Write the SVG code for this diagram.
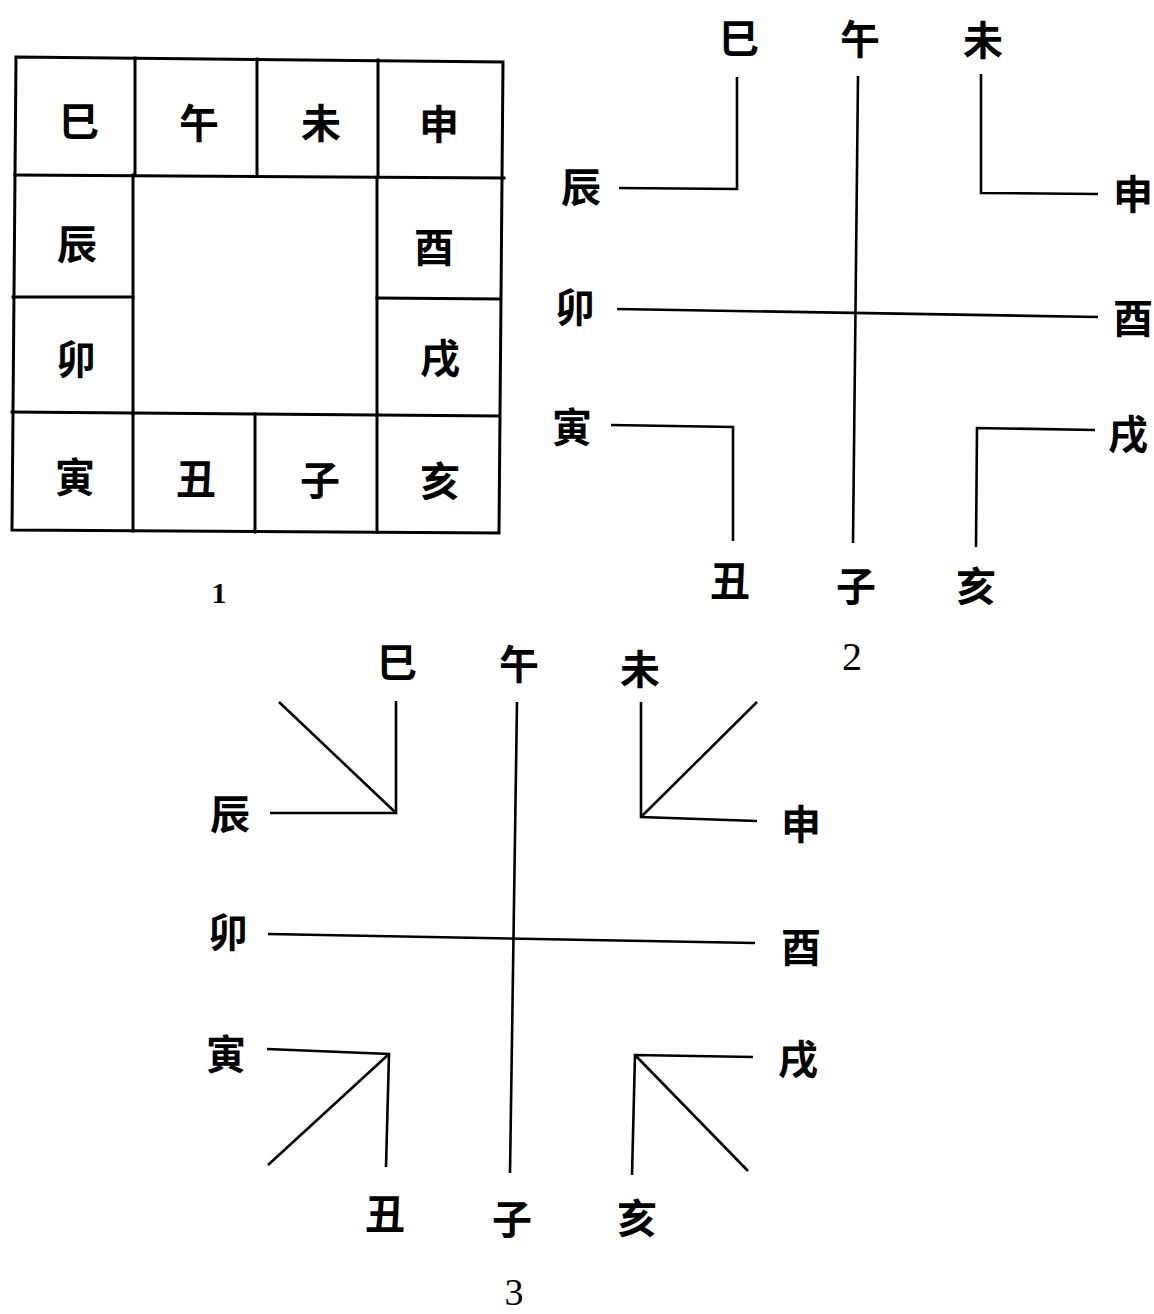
<svg xmlns="http://www.w3.org/2000/svg" width="1154" height="1314" viewBox="0 0 1154 1314">
<style>
.b{font-family:"Noto Sans CJK SC","Noto Sans CJK TC",sans-serif;font-weight:bold;font-size:40px;fill:#000;text-anchor:middle;dominant-baseline:central}
.n{font-family:"Liberation Serif",serif;fill:#000;text-anchor:middle;dominant-baseline:central}
.g1{stroke:#000;stroke-width:3;fill:none;stroke-linecap:square}
.g2{stroke:#000;stroke-width:2.6;fill:none;stroke-linejoin:miter}
</style>
<rect width="1154" height="1314" fill="#fff"/>

<!-- Figure 1 -->
<g id="fig1">
  <g class="g1">
    <polygon points="16,57 503,62 499,533 12,530"/>
    <line x1="15" y1="175" x2="504" y2="178"/>
    <line x1="135" y1="58" x2="135" y2="175"/>
    <line x1="257" y1="59" x2="257" y2="176"/>
    <line x1="378" y1="60" x2="378" y2="177"/>
    <line x1="133" y1="175" x2="133" y2="414"/>
    <line x1="377" y1="177" x2="377" y2="415"/>
    <line x1="13" y1="297" x2="133" y2="297"/>
    <line x1="377" y1="298" x2="500" y2="299"/>
    <line x1="12" y1="412" x2="498" y2="416"/>
    <line x1="133" y1="413" x2="133" y2="531"/>
    <line x1="255" y1="414" x2="255" y2="532"/>
    <line x1="377" y1="415" x2="377" y2="532"/>
  </g>
  <g id="f1-si"><text class="b" x="79" y="119">巳</text></g>
  <g id="f1-wu"><text class="b" x="199" y="121">午</text></g>
  <g id="f1-wei"><text class="b" x="321" y="121">未</text></g>
  <g id="f1-shen"><text class="b" x="439" y="122">申</text></g>
  <g id="f1-chen"><text class="b" x="77" y="242">辰</text></g>
  <g id="f1-you"><text class="b" x="434" y="245">酉</text></g>
  <g id="f1-mao"><text class="b" x="76" y="357">卯</text></g>
  <g id="f1-xu"><text class="b" x="440" y="356">戌</text></g>
  <g id="f1-yin"><text class="b" x="75" y="475">寅</text></g>
  <g id="f1-chou"><text class="b" x="196" y="477">丑</text></g>
  <g id="f1-zi"><text class="b" x="320" y="478">子</text></g>
  <g id="f1-hai"><text class="b" x="440" y="479">亥</text></g>
  <text class="n" x="219" y="592" font-size="30" font-weight="bold">1</text>
</g>

<!-- Figure 2 -->
<g id="fig2">
  <g id="f2-connectors" class="g2">
    <line x1="858" y1="76" x2="853" y2="543"/>
    <line x1="617" y1="309" x2="1098" y2="317"/>
    <polyline points="737,77 737,189 619,188"/>
    <polyline points="981,74 981,193 1098,194"/>
    <polyline points="611,425 733,427 733,541"/>
    <polyline points="1095,430 977,428 976,547"/>
  </g>
  <g id="f2-si"><text class="b" x="739" y="36">巳</text></g>
  <g id="f2-wu"><text class="b" x="860" y="37">午</text></g>
  <g id="f2-wei"><text class="b" x="983" y="38">未</text></g>
  <g id="f2-chen"><text class="b" x="581" y="185">辰</text></g>
  <g id="f2-shen"><text class="b" x="1133" y="192">申</text></g>
  <g id="f2-mao"><text class="b" x="575" y="305">卯</text></g>
  <g id="f2-you"><text class="b" x="1133" y="316">酉</text></g>
  <g id="f2-yin"><text class="b" x="572" y="425">寅</text></g>
  <g id="f2-xu"><text class="b" x="1128" y="432">戌</text></g>
  <g id="f2-chou"><text class="b" x="730" y="579">丑</text></g>
  <g id="f2-zi"><text class="b" x="856" y="584">子</text></g>
  <g id="f2-hai"><text class="b" x="976" y="584">亥</text></g>
  <text class="n" x="852" y="656" font-size="40">2</text>
</g>

<!-- Figure 3 -->
<g id="fig3">
  <g id="f3-connectors" class="g2">
    <line x1="517" y1="702" x2="510" y2="1173"/>
    <line x1="268" y1="934" x2="755" y2="943"/>
    <polyline points="396,701 396,813 270,813"/>
    <line x1="279" y1="702" x2="396" y2="813"/>
    <polyline points="641,702 641,817 757,821"/>
    <line x1="641" y1="817" x2="757" y2="702"/>
    <polyline points="267,1049 389,1054 386,1167"/>
    <line x1="389" y1="1054" x2="268" y2="1165"/>
    <polyline points="753,1057 635,1055 632,1175"/>
    <line x1="635" y1="1055" x2="748" y2="1171"/>
  </g>
  <g id="f3-si"><text class="b" x="397" y="660">巳</text></g>
  <g id="f3-wu"><text class="b" x="519" y="662">午</text></g>
  <g id="f3-wei"><text class="b" x="640" y="667">未</text></g>
  <g id="f3-chen"><text class="b" x="230" y="812">辰</text></g>
  <g id="f3-shen"><text class="b" x="801" y="822">申</text></g>
  <g id="f3-mao"><text class="b" x="228" y="930">卯</text></g>
  <g id="f3-you"><text class="b" x="801" y="945">酉</text></g>
  <g id="f3-yin"><text class="b" x="226" y="1052">寅</text></g>
  <g id="f3-xu"><text class="b" x="798" y="1057">戌</text></g>
  <g id="f3-chou"><text class="b" x="385" y="1212">丑</text></g>
  <g id="f3-zi"><text class="b" x="512" y="1217">子</text></g>
  <g id="f3-hai"><text class="b" x="637" y="1216">亥</text></g>
  <text class="n" x="514" y="1292" font-size="38">3</text>
</g>
</svg>
